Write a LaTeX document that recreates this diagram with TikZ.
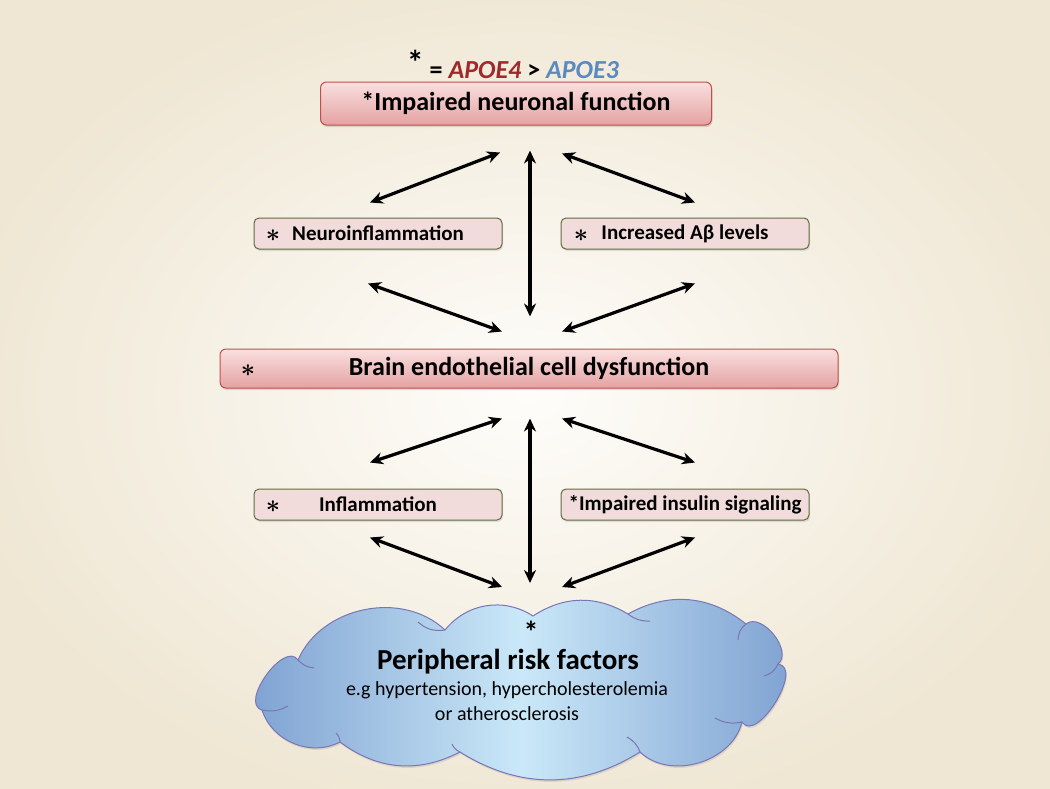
\documentclass[tikz,border=0pt]{standalone}
\usepackage{fontspec}
\setmainfont{Carlito}
\usetikzlibrary{arrows.meta,shadows,calc}

\definecolor{bgin}{HTML}{FEFDFA}
\definecolor{bgout}{HTML}{EFE6D3}
\definecolor{apoefour}{HTML}{9E2A2B}
\definecolor{apoethree}{HTML}{5A8AC0}
\definecolor{boxtop}{HTML}{FADFDF}
\definecolor{boxbot}{HTML}{E4A2A2}
\definecolor{boxline}{HTML}{C0504D}
\definecolor{smallfill}{HTML}{F2DCDB}
\definecolor{smallline}{HTML}{5F6B3E}
\definecolor{cloudedge}{HTML}{7C9FD0}
\definecolor{cloudmid}{HTML}{CAE8F8}
\definecolor{cloudline}{HTML}{7A76B5}

\tikzset{
  bigbox/.style={draw=boxline,line width=1pt,rounded corners=6pt,top color=boxtop,bottom color=boxbot,
    font={\fontsize{26}{30}\selectfont\bfseries},
    drop shadow={opacity=0.25,shadow xshift=1pt,shadow yshift=-2pt}},
  smallbox/.style={draw=smallline,line width=1pt,fill=smallfill,rounded corners=5pt,
    minimum width=248pt,minimum height=31pt,font={\fontsize{21}{24}\selectfont\bfseries},
    drop shadow={opacity=0.2,shadow xshift=1pt,shadow yshift=-2pt}},
  star/.style={font={\fontsize{30}{30}\selectfont\boldmath}},
  crease/.style={draw=cloudline,line width=1pt},
  arr/.style={line width=3.2pt,{Stealth[length=13pt,width=12pt]}-{Stealth[length=13pt,width=12pt]}}
}

\begin{document}
\begin{tikzpicture}[x=1pt,y=-1pt]
\useasboundingbox (0,0) rectangle (1050,788);
\shade[inner color=bgin,outer color=bgout] (-60,-40) rectangle (1110,828);

% legend
\node[font={\fontsize{26}{28}\selectfont\bfseries}] (legend) at (513,64)
  {\raisebox{4pt}{\fontsize{34}{34}\selectfont *} = \textcolor{apoefour}{\textit{APOE4}} > \textcolor{apoethree}{\textit{APOE3}}};

% boxes
\node[bigbox,minimum width=391pt,minimum height=43pt] (neuronal) at (516,103.5) {*Impaired neuronal function};
\node[smallbox] (neuroinfl) at (378,233.5) {Neuroinflammation};
\node[star] (starneuro) at (273,236) {$\ast$};
\node[smallbox] (abeta) at (685,233.5) {Increased Aβ levels};
\node[star] (starabeta) at (581,236) {$\ast$};
\node[bigbox,minimum width=618pt,minimum height=39pt] (endo) at (529,368.5) {Brain endothelial cell dysfunction};
\node[star] (starendo) at (248,371) {$\ast$};
\node[smallbox] (infl) at (378,504.5) {Inflammation};
\node[star] (starinfl) at (273,507) {$\ast$};
\node[smallbox] (insulin) at (685,504.5) {*Impaired insulin signaling};

% cloud
\coordinate (periph) at (508,690);
\coordinate (c1) at (262,710);
\coordinate (c2) at (298,660);
\coordinate (c3) at (445,630);
\coordinate (c4) at (533,616);
\coordinate (c5) at (628,614);
\coordinate (c6) at (746,624);
\coordinate (c7) at (778,664);
\coordinate (c8) at (742,722);
\coordinate (c9) at (640,752);
\coordinate (c10) at (460,752);
\coordinate (c11) at (340,742);
\draw[cloudline,line width=1pt,left color=cloudedge,right color=cloudedge,middle color=cloudmid,
  drop shadow={opacity=0.2,shadow xshift=1pt,shadow yshift=-2pt}]
  (c1) to[bend left=110] (c2) to[bend left=55] (c3) to[bend left=42] (c4) to[bend left=32]
  (c5) to[bend left=34] (c6) to[bend left=90] (c7) to[bend left=115] (c8) to[bend left=60]
  (c9) to[bend left=32] (c10) to[bend left=32] (c11) to[bend left=50] (c1) -- cycle;
% creases
\draw[crease] (c2) to[bend right=20] (314,668);
\draw[crease] (c3) to[bend left=25] (418,622);
\draw[crease] (c5) to[bend right=20] (650,621);
\draw[crease] (c6) to[bend right=25] (738,640);
\draw[crease] (c7) to[bend left=25] (764,676);
\draw[crease] (c8) to[bend left=20] (715,718);
\draw[crease] (c9) to[bend right=20] (627,737);
\draw[crease] (c10) to[bend left=20] (452,744);
\draw[crease] (c11) to[bend right=20] (336,733);
\draw[crease] (c1) to[bend right=20] (288,706);

\node[inner sep=0pt,font={\fontsize{30}{30}\selectfont\bfseries}] (starperiph) at (531,632) {*};
\node[inner sep=0pt,font={\fontsize{29}{32}\selectfont\bfseries}] (periphtitle) at (508,662) {Peripheral risk factors};
\node[inner sep=1pt,font={\fontsize{20}{22}\selectfont}] (periphex) at (507,690) {e.g hypertension, hypercholesterolemia};
\node[inner sep=1pt,font={\fontsize{20}{22}\selectfont}] (periphor) at (507,714) {or atherosclerosis};

% arrows
\draw[arr] ($(neuroinfl.north)+(-8,-15)$) -- ($(neuronal.south)+(-16,27)$);
\draw[arr] ($(neuronal.south)+(14,25)$) -- ($(endo.north)+(1,-32)$);
\draw[arr] ($(neuronal.south)+(46,28)$) -- ($(abeta.north)+(10,-15)$);
\draw[arr] ($(neuroinfl.south)+(-10,34)$) -- ($(endo.north)+(-27,-17)$);
\draw[arr] ($(abeta.south)+(10,34)$) -- ($(endo.north)+(33,-17)$);
\draw[arr] ($(infl.north)+(-8,-26)$) -- ($(endo.south)+(-27,30)$);
\draw[arr] ($(endo.south)+(1,30)$) -- ($(periph)+(22,-107)$);
\draw[arr] ($(endo.south)+(33,30)$) -- ($(insulin.north)+(10,-26)$);
\draw[arr] ($(infl.south)+(-8,17)$) -- ($(periph)+(-6,-103)$);
\draw[arr] ($(insulin.south)+(10,17)$) -- ($(periph)+(54,-103)$);
\end{tikzpicture}
\end{document}
